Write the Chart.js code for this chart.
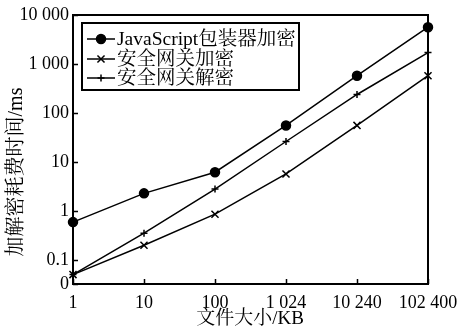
<!DOCTYPE html>
<html>
<head>
<meta charset="utf-8">
<script src="https://cdn.jsdelivr.net/npm/chart.js@4/dist/chart.umd.min.js"></script>
<style>
  html, body { margin: 0; padding: 0; background: #fff; }
  #wrap { width: 466px; height: 330px; }
</style>
</head>
<body>
<div id="wrap"><canvas id="c" width="466" height="330"></canvas></div>
<script>
// File sizes (KB) on the x axis
const fileSizes = ['1', '10', '100', '1 024', '10 240', '102 400'];

// Time spent (ms) by each method
const jsWrapperEncrypt = [0.59, 2.28, 6.15, 55.6, 575, 5640];
const gatewayEncrypt   = [0.05, 0.198, 0.855, 5.67, 55.6, 575];
const gatewayDecrypt   = [0.05, 0.35, 2.79, 26.1, 238, 1706];

// Y axis ticks and their labels (bottom of the axis is labelled 0)
const yTickValues = [0.0321, 0.1, 1, 10, 100, 1000, 10000];
const yTickLabels = ['0', '0.1', '1', '10', '100', '1 000', '10 000'];

const seriesNames = ['JavaScript包装器加密', '安全网关加密', '安全网关解密'];
const xTitle = '文件大小/KB';
const yTitle = '加解密耗费时间/ms';

const FONT = "'Liberation Serif', 'Noto Serif CJK SC', 'Noto Sans CJK SC', serif";

// Frame, inward tick marks, axis titles and boxed legend
const decorPlugin = {
  id: 'decor',
  afterDraw(chart) {
    const ctx = chart.ctx;
    const a = chart.chartArea;
    const xs = chart.scales.x, ys = chart.scales.y;
    ctx.save();
    ctx.strokeStyle = '#000';
    ctx.lineWidth = 2;
    ctx.strokeRect(a.left, a.top, a.right - a.left, a.bottom - a.top);

    ctx.lineWidth = 1.5;
    ctx.beginPath();
    xs.ticks.forEach((t, i) => {
      const px = Math.round(xs.getPixelForTick(i)) + 0.5;
      ctx.moveTo(px, a.bottom);
      ctx.lineTo(px, a.bottom - 5);
    });
    ys.ticks.forEach((t, i) => {
      const py = Math.round(ys.getPixelForValue(t.value)) + 0.5;
      ctx.moveTo(a.left, py);
      ctx.lineTo(a.left + 5, py);
    });
    ctx.stroke();

    // axis titles
    ctx.fillStyle = '#000';
    ctx.font = '19px ' + FONT;
    ctx.textAlign = 'center';
    ctx.textBaseline = 'middle';
    ctx.fillText(xTitle, 250, 319);
    ctx.save();
    ctx.font = '20px ' + FONT;
    ctx.translate(17, 172);
    ctx.rotate(-Math.PI / 2);
    ctx.fillText(yTitle, 0, 0);
    ctx.restore();

    // legend
    const box = { x: 82, y: 23, w: 217, h: 67 };
    ctx.lineWidth = 2;
    ctx.strokeRect(box.x, box.y, box.w, box.h);
    const rows = [39, 59, 78];
    chart.data.datasets.forEach((ds, i) => {
      const y = rows[i];
      ctx.lineWidth = ds.borderWidth;
      ctx.strokeStyle = ds.borderColor;
      ctx.beginPath();
      ctx.moveTo(87, y);
      ctx.lineTo(115, y);
      ctx.stroke();
      Chart.helpers.drawPoint(ctx, {
        pointStyle: ds.pointStyle,
        radius: ds.pointRadius,
        borderWidth: ds.pointBorderWidth
      }, 101, y);
      ctx.fillStyle = '#000';
      ctx.font = '19.5px ' + FONT;
      ctx.textAlign = 'left';
      ctx.textBaseline = 'middle';
      ctx.fillText(ds.label, 117, y + 1);
    });
    ctx.restore();
  }
};

const mk = (label, data, style, radius) => ({
  label, data,
  borderColor: '#000',
  backgroundColor: '#000',
  borderWidth: 1.5,
  pointStyle: style,
  pointRadius: radius,
  pointBorderWidth: 1.5,
  pointBackgroundColor: '#000',
  pointBorderColor: '#000',
  tension: 0,
  clip: false
});

new Chart(document.getElementById('c'), {
  type: 'line',
  data: {
    labels: fileSizes,
    datasets: [
      mk(seriesNames[0], jsWrapperEncrypt, 'circle', 4.5),
      mk(seriesNames[1], gatewayEncrypt, 'crossRot', 5),
      mk(seriesNames[2], gatewayDecrypt, 'cross', 3.5)
    ]
  },
  options: {
    responsive: false,
    animation: false,
    devicePixelRatio: 1,
    layout: { padding: { left: 0, top: 15, right: 38, bottom: 0 } },
    plugins: { legend: { display: false }, tooltip: { enabled: false } },
    scales: {
      x: {
        type: 'category',
        offset: false,
        grid: { display: false, drawTicks: false },
        border: { display: false },
        ticks: {
          color: '#000',
          font: { family: FONT, size: 18 },
          padding: 8,
          maxRotation: 0,
          autoSkip: false
        },
        afterFit(s) { s.height = 46; }
      },
      y: {
        type: 'logarithmic',
        min: yTickValues[0],
        max: yTickValues[yTickValues.length - 1],
        grid: { display: false, drawTicks: false },
        border: { display: false },
        afterBuildTicks(s) {
          s.ticks = yTickValues.map(v => ({ value: v }));
        },
        ticks: {
          color: '#000',
          font: { family: FONT, size: 18 },
          padding: 4,
          callback(v) {
            const i = yTickValues.indexOf(v);
            return i >= 0 ? yTickLabels[i] : '';
          }
        },
        afterFit(s) { s.width = 73; }
      }
    }
  },
  plugins: [decorPlugin]
});
</script>
</body>
</html>
